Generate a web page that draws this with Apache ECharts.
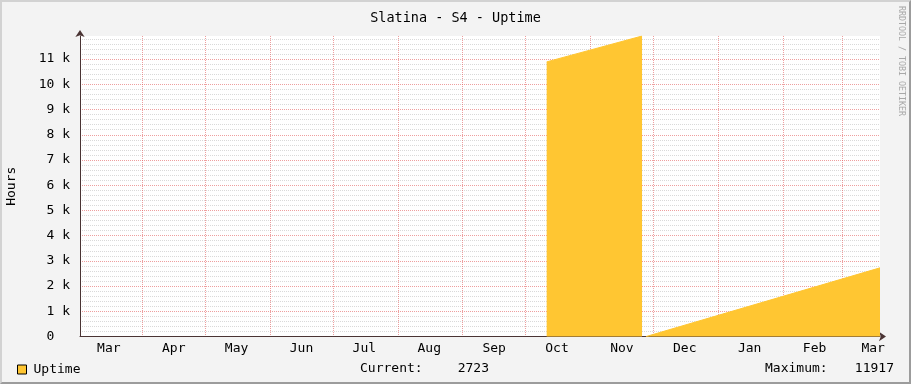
<!DOCTYPE html>
<html><head><meta charset="utf-8">
<script src="https://cdn.jsdelivr.net/npm/echarts@6/dist/echarts.min.js"></script>
<style>
html,body{margin:0;padding:0;background:#f3f3f3;}
#wrap{position:relative;width:911px;height:384px;overflow:hidden;}
#chart{position:absolute;left:0;top:0;width:911px;height:384px;}
#frame{position:absolute;left:0;top:0;width:911px;height:384px;box-sizing:border-box;border-top:2px solid #d2d2d2;border-left:2px solid #d2d2d2;border-right:2px solid #9c9c9c;border-bottom:2px solid #9c9c9c;pointer-events:none;}
</style></head><body>
<div id="wrap"><div id="chart"></div><div id="frame"></div></div>
<script>
// ---- data ----
const chartTitle = 'Slatina - S4 - Uptime';
const seriesName = 'Uptime';
const yAxisName = 'Hours';
const watermark = 'RRDTOOL / TOBI OETIKER';
const rangeStart = '2013-03-02T06:00:00Z';
const rangeEnd = '2014-03-19T06:00:00Z';
const monthStarts = ['2013-04-01','2013-05-01','2013-06-01','2013-07-01','2013-08-01','2013-09-01','2013-10-01','2013-11-01','2013-12-01','2014-01-01','2014-02-01','2014-03-01'];
const monthLabelDates = ['2013-03-16','2013-04-16','2013-05-16','2013-06-16','2013-07-16','2013-08-16','2013-09-16','2013-10-16','2013-11-16','2013-12-16','2014-01-16','2014-02-16','2014-03-16'];
const monthLabels = ['Mar','Apr','May','Jun','Jul','Aug','Sep','Oct','Nov','Dec','Jan','Feb','Mar'];
const uptimeTimes = ['2013-10-11T02:00:00Z','2013-11-25T15:00:00Z','2013-11-26T18:00:00Z','2013-11-27T14:00:00Z','2014-03-19T06:00:00Z'];
const uptimeValues = [10890, 11917, null, 0, 2723];

// ---- build ----
const DAY = 86400000;
const toMs = s => Date.parse(s.length === 10 ? s + 'T00:00:00Z' : s);
const t0 = toMs(rangeStart);
const toDay = s => (toMs(s) - t0) / DAY;
const FONT = '"DejaVu Sans Mono", monospace';
const seriesData = uptimeTimes.map((t, i) => [toDay(t), uptimeValues[i]]);
const valid = uptimeValues.filter(v => v !== null);
const currentVal = valid[valid.length - 1];
const maxVal = Math.max(...valid);
const labelDays = monthLabelDates.map(toDay);
const tickDays = monthStarts.map(toDay);

const MAJOR = 'rgba(224,80,80,0.55)';
const MINOR = '#d9d9d9';
const FILL = '#ffc632';
const yColors = [MAJOR, MINOR, MINOR, MINOR, MINOR];

const chart = echarts.init(document.getElementById('chart'), null, {renderer: 'canvas'});
chart.setOption({
  backgroundColor: '#f3f3f3',
  animation: false,
  title: {
    text: chartTitle, left: 'center', top: 6,
    textStyle: {fontFamily: FONT, fontSize: 13.5, fontWeight: 'normal', color: '#000'}
  },
  legend: {
    left: 17, top: 363, padding: 0, itemWidth: 9, itemHeight: 9,
    data: [{name: seriesName, icon: 'rect'}],
    itemStyle: {borderColor: '#000', borderWidth: 1},
    textStyle: {fontFamily: FONT, fontSize: 13, color: '#000', padding: [0, 0, 0, 2]}
  },
  grid: {left: 80, right: 31, top: 36, bottom: 47.5, show: true, backgroundColor: '#ffffff', borderWidth: 0, containLabel: false, outerBoundsMode: 'none'},
  xAxis: {
    type: 'value', min: 0, max: toDay(rangeEnd),
    axisLine: {show: true, onZero: false, lineStyle: {color: '#4a3434', width: 1}, symbol: ['none', 'arrow'], symbolSize: [7, 7], symbolOffset: [0, 6]},
    axisTick: {show: false, customValues: tickDays},
    splitLine: {show: true, lineStyle: {color: MAJOR, type: [1, 1], width: 1}},
    axisLabel: {
      customValues: labelDays, margin: 6, color: '#000', fontFamily: FONT, fontSize: 13,
      formatter: v => { let best = 0; labelDays.forEach((d, i) => { if (Math.abs(d - v) < Math.abs(labelDays[best] - v)) best = i; }); return monthLabels[best]; }
    }
  },
  yAxis: {
    type: 'value', min: 0, max: maxVal, interval: 200,
    name: yAxisName, nameLocation: 'middle', nameGap: 62,
    nameTextStyle: {fontFamily: FONT, fontSize: 13, color: '#000'},
    axisLine: {show: true, lineStyle: {color: '#4a3434', width: 1}, symbol: ['none', 'arrow'], symbolSize: [7, 7], symbolOffset: [0, 6]},
    axisTick: {show: false},
    splitLine: {show: true, showMaxLine: false, lineStyle: {color: yColors, type: [1, 1], width: 1}},
    axisLabel: {
      margin: 10, color: '#000', fontFamily: FONT, fontSize: 13,
      formatter: v => v === 0 ? '0  ' : (v % 1000 === 0 ? (v / 1000) + ' k' : '')
    }
  },
  series: [{
    name: seriesName, type: 'line', data: seriesData, showSymbol: false, symbol: 'none',
    connectNulls: false, lineStyle: {width: 1, color: FILL},
    itemStyle: {color: FILL},
    areaStyle: {color: FILL, opacity: 1}, z: 1
  }],
  graphic: [
    {type: 'text', left: 360, top: 362, style: {text: 'Current:', font: '13px ' + FONT, fill: '#000'}},
    {type: 'text', right: 911 - 489, top: 362, style: {text: String(currentVal), font: '13px ' + FONT, fill: '#000'}},
    {type: 'text', left: 765, top: 362, style: {text: 'Maximum:', font: '13px ' + FONT, fill: '#000'}},
    {type: 'text', right: 911 - 894, top: 362, style: {text: String(maxVal), font: '13px ' + FONT, fill: '#000'}},
    {type: 'text', x: 905, y: 6, rotation: -Math.PI / 2, style: {text: watermark, font: '8.3px ' + FONT, fill: '#a8a8a8'}}
  ]
});
</script>
</body></html>
